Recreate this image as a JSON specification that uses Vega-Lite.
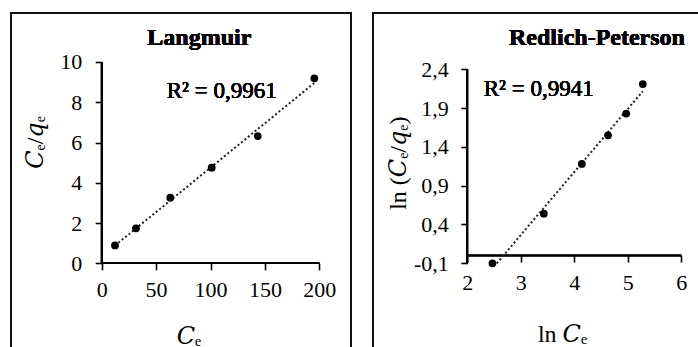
{
  "$schema": "https://vega.github.io/schema/vega-lite/v6.json",
  "padding": {"left": 10, "top": 12, "right": 0, "bottom": 0},
  "background": "white",
  "spacing": 20,
  "datasets": {
    "langmuir": [
      {"Ce": 12.2, "Ce_qe": 0.89},
      {"Ce": 31.5, "Ce_qe": 1.74},
      {"Ce": 63.0, "Ce_qe": 3.26},
      {"Ce": 101.1, "Ce_qe": 4.75},
      {"Ce": 143.4, "Ce_qe": 6.32},
      {"Ce": 195.4, "Ce_qe": 9.19}
    ],
    "rp": [
      {"lnCe": 2.47, "lnY": -0.10},
      {"lnCe": 3.43, "lnY": 0.54},
      {"lnCe": 4.14, "lnY": 1.18},
      {"lnCe": 4.63, "lnY": 1.55},
      {"lnCe": 4.97, "lnY": 1.83},
      {"lnCe": 5.28, "lnY": 2.21}
    ]
  },
  "hconcat": [
    {
      "width": 340,
      "height": 335,
      "data": {"name": "langmuir"},
      "encoding": {
        "x": {"field": "Ce", "type": "quantitative",
          "scale": {"domain": [-83.36, 229.1], "nice": false, "zero": false},
          "axis": {"values": [0, 50, 100, 150, 200], "offset": -84.7, "labelPadding": 9.5,
            "title": "𝐶ₑ", "titleX": 177.5, "titleY": 80, "titleBaseline": "alphabetic", "titleAlign": "center"}},
        "y": {"field": "Ce_qe", "type": "quantitative",
          "scale": {"domain": [-4.208, 12.434], "nice": false, "zero": false},
          "axis": {"values": [0, 2, 4, 6, 8, 10], "offset": -90.7, "labelPadding": 13.5,
            "title": "𝐶ₑ/𝑞ₑ", "titleX": -66.7, "titleY": 129, "titleAngle": -90, "titleBaseline": "middle", "titleAlign": "center"}}
      },
      "layer": [
        {"mark": {"type": "rule", "color": "black", "strokeWidth": 1.6},
         "encoding": {"x": {"datum": 0}, "x2": {"datum": 200}, "y": {"datum": 0}}},
        {"mark": {"type": "rule", "color": "black", "strokeWidth": 1.6},
         "encoding": {"x": {"datum": 0}, "y": {"datum": 0}, "y2": {"datum": 10}}},
        {"transform": [{"regression": "Ce_qe", "on": "Ce", "extent": [12.2, 195.4]}],
         "mark": {"type": "line", "color": "#222", "strokeWidth": 2, "strokeDash": [2, 2.4]}},
        {"mark": {"type": "point", "filled": true, "shape": "circle", "size": 60, "color": "black", "opacity": 1}},
        {"mark": {"type": "text", "text": "R² = 0,9961", "align": "left", "baseline": "middle", "font": "Liberation Serif", "fontSize": 23, "fontWeight": "normal", "color": "black"},
         "encoding": {"x": {"datum": 59.7}, "y": {"datum": 8.56}}},
        {"mark": {"type": "text", "text": "Langmuir", "align": "center", "baseline": "alphabetic", "font": "Liberation Serif", "fontSize": 24, "fontWeight": "bold", "color": "black"},
         "encoding": {"x": {"datum": 89.7}, "y": {"datum": 10.845}}}
      ]
    },
    {
      "width": 328,
      "height": 335,
      "data": {"name": "rp"},
      "encoding": {
        "x": {"field": "lnCe", "type": "quantitative",
          "scale": {"domain": [0.2374, 6.368], "nice": false, "zero": false},
          "axis": {"values": [2, 3, 4, 5, 6], "offset": -92.5, "labelPadding": 10,
            "title": "ln 𝐶ₑ", "titleX": 189, "titleY": 85.5, "titleBaseline": "alphabetic", "titleAlign": "center"}},
        "y": {"field": "lnY", "type": "quantitative",
          "scale": {"domain": [-1.1915, 3.1255], "nice": false, "zero": false},
          "axis": {"values": [-0.1, 0.4, 0.9, 1.4, 1.9, 2.4], "offset": -94.3, "labelPadding": 12.5,
            "labelExpr": "replace(toString(datum.value), '.', ',')",
            "title": "ln (𝐶ₑ/𝑞ₑ)", "titleX": -68.8, "titleY": 149.7, "titleAngle": -90, "titleBaseline": "middle", "titleAlign": "center"}}
      },
      "layer": [
        {"mark": {"type": "rule", "color": "black", "strokeWidth": 1.6},
         "encoding": {"x": {"datum": 2}, "x2": {"datum": 6}, "y": {"datum": 0}}},
        {"mark": {"type": "rule", "color": "black", "strokeWidth": 1.6},
         "encoding": {"x": {"datum": 2}, "y": {"datum": -0.1}, "y2": {"datum": 2.4}}},
        {"transform": [{"regression": "lnY", "on": "lnCe", "extent": [2.55, 5.28]}],
         "mark": {"type": "line", "color": "#222", "strokeWidth": 2, "strokeDash": [2, 2.4]}},
        {"mark": {"type": "point", "filled": true, "shape": "circle", "size": 60, "color": "black", "opacity": 1}},
        {"mark": {"type": "text", "text": "R² = 0,9941", "align": "left", "baseline": "middle", "font": "Liberation Serif", "fontSize": 23, "fontWeight": "normal", "color": "black"},
         "encoding": {"x": {"datum": 2.307}, "y": {"datum": 2.142}}},
        {"mark": {"type": "text", "text": "Redlich-Peterson", "align": "center", "baseline": "alphabetic", "font": "Liberation Serif", "fontSize": 24, "fontWeight": "bold", "color": "black"},
         "encoding": {"x": {"datum": 4.424}, "y": {"datum": 2.713}}}
      ]
    }
  ],
  "config": {
    "view": {"stroke": "#111", "strokeWidth": 2},
    "axis": {"domain": false, "grid": false, "ticks": true, "tickColor": "black", "tickWidth": 1.6, "tickSize": 6.5,
      "labelFont": "Liberation Serif", "labelFontSize": 22, "labelColor": "black",
      "titleFont": "Liberation Serif, DejaVu Serif", "titleFontSize": 24, "titleColor": "black", "titleFontWeight": "normal"}
  }
}
